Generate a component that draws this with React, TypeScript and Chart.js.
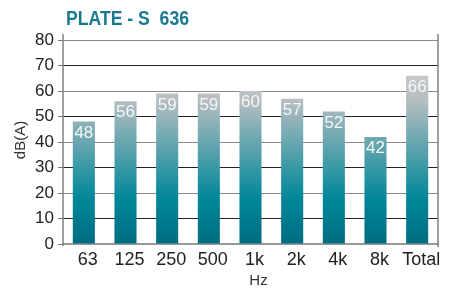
import React, { useEffect, useRef } from "react";
import { Chart, registerables } from "chart.js";
Chart.register(...registerables);

const categories = ["63", "125", "250", "500", "1k", "2k", "4k", "8k", "Total"];
const values = [48, 56, 59, 59, 60, 57, 52, 42, 66];
const yTicks = [0, 10, 20, 30, 40, 50, 60, 70, 80];
const titleText = "PLATE - S  636";
const yTitle = "dB(A)";
const xTitle = "Hz";

const FONT = "'Liberation Sans', Arial, sans-serif";

export default function App() {
  const ref = useRef<HTMLCanvasElement | null>(null);
  useEffect(() => {
    document.body.style.margin = "0";
    const canvas = ref.current!;
    const decor = {
      id: "decor",
      beforeDatasetsDraw(chart: any) {
        const ctx = chart.ctx;
        const meta = chart.getDatasetMeta(0);
        meta.data.forEach((el: any) => {
          const g = ctx.createLinearGradient(0, el.base, 0, el.y);
          g.addColorStop(0, "#006d81");
          g.addColorStop(0.27, "#00879a");
          g.addColorStop(0.85, "#b5bdc1");
          g.addColorStop(1, "#c6c9cb");
          el.options.backgroundColor = g;
        });
      },
      afterDatasetsDraw(chart: any) {
        const ctx = chart.ctx;
        const meta = chart.getDatasetMeta(0);
        const ca = chart.chartArea;
        ctx.save();
        ctx.font = `17px ${FONT}`;
        ctx.fillStyle = "#f7f7f7";
        ctx.textAlign = "center";
        ctx.textBaseline = "top";
        meta.data.forEach((el: any, i: number) => {
          ctx.fillText(String(values[i]), el.x, el.y + 3);
        });
        // axis lines
        ctx.strokeStyle = "#808080";
        ctx.lineWidth = 1.5;
        ctx.beginPath();
        ctx.moveTo(ca.left, ca.top - 6);
        ctx.lineTo(ca.left, ca.bottom + 2);
        ctx.moveTo(ca.right, ca.top - 6);
        ctx.lineTo(ca.right, ca.bottom + 3);
        ctx.stroke();
        // titles
        ctx.fillStyle = "#1a7a8e";
        ctx.font = `bold 20px ${FONT}`;
        ctx.textAlign = "left";
        ctx.textBaseline = "middle";
        ctx.fillText(titleText, ca.left + 3, 19, 123);
        ctx.fillStyle = "#333";
        ctx.font = `15px ${FONT}`;
        ctx.textAlign = "center";
        ctx.fillText(xTitle, (ca.left + ca.right) / 2 + 8, 281);
        ctx.translate(21, 140);
        ctx.rotate(-Math.PI / 2);
        ctx.fillText(yTitle, 0, 0);
        ctx.restore();
      },
    };
    const chart = new Chart(canvas, {
      type: "bar",
      data: {
        labels: categories,
        datasets: [
          {
            data: values,
            backgroundColor: "#00879a",
            borderWidth: 0,
            barPercentage: 0.53,
            categoryPercentage: 1,
          },
        ],
      },
      options: {
        responsive: false,
        animation: false,
        events: [],
        layout: { padding: { top: 40, right: 16, left: 0, bottom: 0 } },
        plugins: { legend: { display: false }, title: { display: false }, tooltip: { enabled: false } },
        scales: {
          x: {
            grid: { display: false, drawTicks: false },
            border: { display: true, color: "#999", width: 2 },
            ticks: { font: { family: FONT, size: 18 }, color: "#222", padding: 5, labelOffset: 4, maxRotation: 0, autoSkip: false },
            afterFit: (s: any) => { s.height = 49; },
          },
          y: {
            min: 0,
            max: 80,
            afterBuildTicks: (s: any) => { s.ticks = yTicks.map((v) => ({ value: v })); },
            grid: {
              color: (c: any) => ((c.tick && c.tick.value / 10) % 2 === 1 ? "#222" : "#888"),
              tickColor: "#777",
              tickLength: 5,
              lineWidth: 1,
            },
            border: { display: false },
            ticks: { font: { family: FONT, size: 17 }, color: "#222", padding: 4 },
            afterFit: (s: any) => { s.width = 63; },
          },
        },
      },
      plugins: [decor],
    });
    return () => chart.destroy();
  }, []);
  return (
    <div style={{ position: "absolute", left: 0, top: 0, width: 454, height: 293 }}>
      <canvas ref={ref} width={454} height={293} />
    </div>
  );
}
